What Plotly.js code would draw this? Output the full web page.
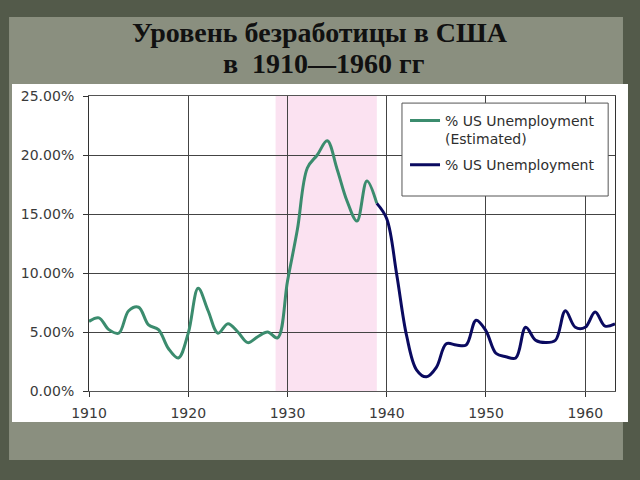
<!DOCTYPE html>
<html>
<head>
<meta charset="utf-8">
<script src="https://cdn.plot.ly/plotly-3.0.1.min.js"></script>
<style>html,body{margin:0;padding:0;background:#535a4a;}#chart{width:640px;height:480px;}</style>
</head>
<body>
<div id="chart"></div>
<script>
// Data
var yearsEstimated = [1910,1911,1912,1913,1914,1915,1916,1917,1918,1919,1920,1921,1922,1923,1924,1925,1926,1927,1928,1929,1930,1931,1932,1933,1934,1935,1936,1937,1938,1939];
var unemploymentEstimated = [5.9,6.2,5.2,4.9,6.8,7.1,5.6,5.2,3.6,2.8,4.9,8.7,6.8,4.9,5.7,5.0,4.1,4.6,5.0,4.5,9.3,13.7,18.9,20.0,21.2,18.8,16.1,14.4,17.8,15.9];
var yearsActual = [1939,1940,1941,1942,1943,1944,1945,1946,1947,1948,1949,1950,1951,1952,1953,1954,1955,1956,1957,1958,1959,1960,1961,1962,1963];
var unemploymentActual = [15.9,14.6,9.9,4.7,1.8,1.2,2.0,4.0,3.9,3.9,6.0,5.1,3.2,2.9,2.8,5.4,4.3,4.1,4.3,6.8,5.4,5.4,6.7,5.5,5.7];
var shadedPeriod = [1928.8, 1939.0];
var xTicks = [1910,1920,1930,1940,1950,1960];
var titleLine1 = 'Уровень безработицы в США';
var titleLine2 = 'в\u00a0 1910—1960 гг';
var seriesNames = ['% US Unemployment<br>(Estimated)', '% US Unemployment'];

var traces = [
  {x: yearsEstimated, y: unemploymentEstimated, name: seriesNames[0], legendgroup: 'est', type: 'scatter', mode: 'lines',
   line: {color: '#3b8c6e', width: 3, shape: 'spline', smoothing: 1}},
  {x: yearsActual, y: unemploymentActual, name: seriesNames[1], legendgroup: 'act', type: 'scatter', mode: 'lines',
   line: {color: '#0a0a60', width: 3, shape: 'spline', smoothing: 1}}
];

var layout = {
  width: 640, height: 480,
  paper_bgcolor: '#535a4a',
  plot_bgcolor: '#ffffff',
  margin: {l: 89, r: 25, t: 96, b: 89},
  showlegend: true,
  legend: {x: 0.6008, y: 0.970, xanchor: 'left', yanchor: 'top', bgcolor: 'rgba(0,0,0,0)', borderwidth: 0,
           valign: 'top', font: {family: 'DejaVu Sans', size: 14, color: '#2e2e2e'}, tracegroupgap: 5},
  xaxis: {range: [1910, 1963], tickvals: xTicks, showgrid: true, gridcolor: '#444', gridwidth: 1,
          zeroline: false, showline: true, linecolor: '#555', linewidth: 1, mirror: true,
          ticks: 'outside', ticklen: 5, tickcolor: '#333', ticklabelstandoff: 4,
          tickfont: {family: 'DejaVu Sans', size: 14, color: '#3a3a3a'}},
  yaxis: {range: [0, 25], dtick: 5, tickformat: '.2f', ticksuffix: '%', showgrid: true, gridcolor: '#444', gridwidth: 1,
          zeroline: false, showline: true, linecolor: '#333', linewidth: 1, mirror: true,
          ticks: 'outside', ticklen: 5, tickcolor: '#333', ticklabelstandoff: 6,
          tickfont: {family: 'DejaVu Sans', size: 14, color: '#3a3a3a'}},
  shapes: [
    {type: 'rect', xref: 'paper', yref: 'paper', x0: -0.152, x1: 1.0152, y0: -0.234, y1: 1.268,
     fillcolor: '#8a8f7f', line: {width: 0}, layer: 'below'},
    {type: 'rect', xref: 'paper', yref: 'paper', x0: -0.1464, x1: 1.0247, y0: -0.1051, y1: 1.0407,
     fillcolor: '#ffffff', line: {width: 0}, layer: 'below'},
    {type: 'rect', xref: 'x', yref: 'y', x0: shadedPeriod[0], x1: shadedPeriod[1], y0: 0, y1: 25,
     fillcolor: '#fbe2f1', line: {width: 0}, layer: 'below'},
    {type: 'rect', xref: 'paper', yref: 'paper', x0: 0.595, x1: 0.987, y0: 0.661, y1: 0.976,
     fillcolor: '#ffffff', line: {color: '#555', width: 1}, layer: 'above'}
  ],
  annotations: [
    {text: '<b>' + titleLine1 + '</b>', xref: 'paper', yref: 'paper', x: 0.4392, y: 1.2136,
     xanchor: 'center', yanchor: 'middle', showarrow: false,
     font: {family: 'Liberation Serif', size: 28, color: '#111'}},
    {text: '<b>' + titleLine2 + '</b>', xref: 'paper', yref: 'paper', x: 0.4468, y: 1.1085,
     xanchor: 'center', yanchor: 'middle', showarrow: false,
     font: {family: 'Liberation Serif', size: 28, color: '#111'}}
  ]
};

Plotly.newPlot('chart', traces, layout, {displayModeBar: false, staticPlot: true});
</script>
</body>
</html>
